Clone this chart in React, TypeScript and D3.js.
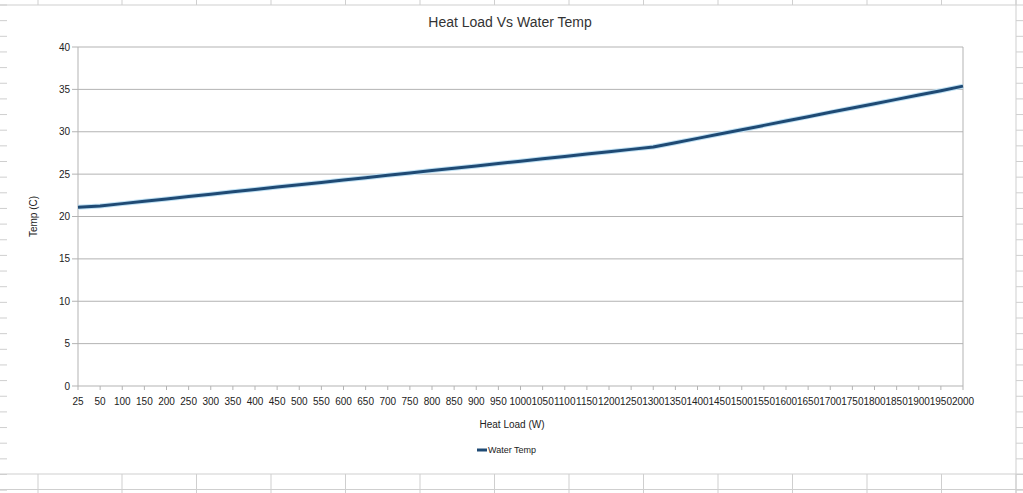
import React from "react";
import * as d3 from "d3";

const categories: string[] = [
  "25", "50", "100", "150", "200", "250", "300", "350", "400", "450", "500",
  "550", "600", "650", "700", "750", "800", "850", "900", "950", "1000",
  "1050", "1100", "1150", "1200", "1250", "1300", "1350", "1400", "1450", "1500",
  "1550", "1600", "1650", "1700", "1750", "1800", "1850", "1900", "1950", "2000",
];

const waterTemp: number[] = [
  21.1, 21.24, 21.52, 21.8, 22.07, 22.35, 22.63, 22.91, 23.19, 23.47, 23.75,
  24.02, 24.3, 24.58, 24.86, 25.14, 25.42, 25.7, 25.97, 26.25, 26.53,
  26.81, 27.09, 27.37, 27.64, 27.92, 28.2, 28.71, 29.22, 29.73, 30.24,
  30.75, 31.27, 31.78, 32.29, 32.8, 33.31, 33.82, 34.33, 34.84, 35.38,
];

const yTicks: number[] = [0, 5, 10, 15, 20, 25, 30, 35, 40];

const title = "Heat Load Vs Water Temp";
const xTitle = "Heat Load (W)";
const yTitle = "Temp (C)";
const seriesName = "Water Temp";

const W = 1023;
const H = 493;
const plot = { left: 78, right: 963, top: 47, bottom: 386 };
const font = "'Liberation Sans', Arial, sans-serif";
const sheetLine = "#cfcfcf";
const gridColor = "#b3b3b3";

export default function App() {
  const x = d3
    .scalePoint<string>()
    .domain(categories)
    .range([plot.left, plot.right]);
  const y = d3.scaleLinear().domain([0, 40]).range([plot.bottom, plot.top]);

  const line = d3
    .line<number>()
    .x((_, i) => x(categories[i]) as number)
    .y((d) => y(d));
  const path = line(waterTemp) || "";

  // spreadsheet background lines
  const colXs = [38, 122, 196.5, 271, 345.5, 420, 494.5, 569, 643.5, 718, 792.5, 867, 941.5, 1016];
  const rowYs = d3.range(0, 32).map((k) => 5 + k * 15.65).filter((v) => v < H);

  return (
    <svg
      width={W}
      height={H}
      style={{ position: "absolute", left: 0, top: 0, background: "#fff" }}
      fontFamily={font}
    >
      <rect x={0} y={0} width={W} height={H} fill="#fff" />
      {/* sheet: top strip */}
      <line x1={0} x2={1016} y1={5} y2={5} stroke={sheetLine} />
      {colXs.map((cx) => (
        <line key={"tc" + cx} x1={cx} x2={cx} y1={0} y2={5} stroke={sheetLine} />
      ))}
      {/* sheet: bottom strip */}
      <line x1={0} x2={W} y1={474} y2={474} stroke={sheetLine} />
      {colXs.map((cx) => (
        <line key={"bc" + cx} x1={cx} x2={cx} y1={474} y2={H} stroke={sheetLine} />
      ))}
      <line x1={0} x2={W} y1={489.5} y2={489.5} stroke={sheetLine} />
      {/* sheet: left & right row ticks */}
      {rowYs.map((ry) => (
        <g key={"r" + ry}>
          <line x1={0} x2={7} y1={ry} y2={ry} stroke={sheetLine} />
          <line x1={1016} x2={W} y1={ry} y2={ry} stroke={sheetLine} />
        </g>
      ))}
      <line x1={1016} x2={1016} y1={0} y2={H} stroke={sheetLine} />

      {/* title */}
      <text x={510} y={27} textAnchor="middle" fontSize={14} fill="#333">
        {title}
      </text>

      {/* grid */}
      {yTicks.map((t) => (
        <g key={"g" + t}>
          <line x1={plot.left} x2={plot.right} y1={y(t)} y2={y(t)} stroke={gridColor} />
          <line x1={plot.left - 6} x2={plot.left} y1={y(t)} y2={y(t)} stroke={gridColor} />
          <text
            x={plot.left - 8}
            y={y(t)}
            dy="0.35em"
            textAnchor="end"
            fontSize={10}
            fill="#222"
          >
            {t}
          </text>
        </g>
      ))}
      <line x1={plot.left} x2={plot.left} y1={plot.top} y2={plot.bottom} stroke={gridColor} />
      <line x1={plot.right} x2={plot.right} y1={plot.top} y2={plot.bottom} stroke={gridColor} />

      {/* x axis */}
      {categories.map((c) => (
        <g key={"x" + c}>
          <line
            x1={x(c)}
            x2={x(c)}
            y1={plot.bottom}
            y2={plot.bottom + 4}
            stroke={gridColor}
          />
          <text x={x(c)} y={405} textAnchor="middle" fontSize={10} fill="#222">
            {c}
          </text>
        </g>
      ))}

      {/* axis titles */}
      <text x={512} y={428} textAnchor="middle" fontSize={10} fill="#222">
        {xTitle}
      </text>
      <text
        transform={`translate(37, ${(plot.top + plot.bottom) / 2}) rotate(-90)`}
        textAnchor="middle"
        fontSize={10}
        fill="#222"
      >
        {yTitle}
      </text>

      {/* series */}
      <path d={path} fill="none" stroke="#bfe0f3" strokeWidth={5} strokeLinejoin="round" />
      <path d={path} fill="none" stroke="#1f4a74" strokeWidth={3} strokeLinejoin="round" />

      {/* legend */}
      <line x1={477} x2={487} y1={450} y2={450} stroke="#1f4a74" strokeWidth={3} />
      <text x={488} y={450} dy="0.35em" fontSize={9} fill="#222">
        {seriesName}
      </text>
    </svg>
  );
}
